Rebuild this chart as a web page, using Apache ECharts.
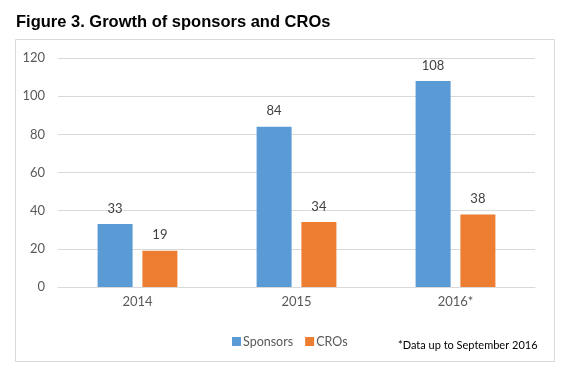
<!DOCTYPE html>
<html><head><meta charset="utf-8">
<script src="https://cdn.jsdelivr.net/npm/echarts@6/dist/echarts.min.js"></script>
<style>html,body{margin:0;padding:0;background:#fff}#c{width:570px;height:377px}</style>
</head><body><div id="c"></div>
<script>
var categories = ['2014', '2015', '2016*'];
var sponsors = [33, 84, 108];
var cros = [19, 34, 38];
var yTicks = [0, 20, 40, 60, 80, 100, 120];

var chart = echarts.init(document.getElementById('c'), null, {renderer: 'canvas'});
var lbl = {show: true, position: 'top', distance: 9, color: '#404040', fontSize: 13, fontFamily: 'Lato'};
chart.setOption({
  animation: false,
  backgroundColor: '#fff',
  title: {
    text: 'Figure 3. Growth of sponsors and CROs',
    left: 11, top: 9,
    textStyle: {fontFamily: 'Liberation Sans', fontWeight: 'bold', fontSize: 16.5, color: '#000'}
  },
  graphic: [
    {type: 'rect', shape: {x: 15.5, y: 39.5, width: 539, height: 322}, style: {fill: 'none', stroke: '#d9d9d9', lineWidth: 1}, silent: true},
    {type: 'text', left: 398, top: 340, style: {text: '*Data up to September 2016', font: '11px Lato', fill: '#000'}}
  ],
  legend: {
    data: ['Sponsors', 'CROs'],
    left: 227, top: 330,
    itemWidth: 9, itemHeight: 9, itemGap: 12,
    icon: 'rect',
    textStyle: {color: '#595959', fontSize: 12.5, fontFamily: 'Lato', padding: [0, 0, 0, -3]}
  },
  grid: {left: 58, right: 35, top: 58, bottom: 90, containLabel: false},
  xAxis: {
    type: 'category', data: categories,
    axisLine: {lineStyle: {color: '#d9d9d9'}},
    axisTick: {show: false},
    axisLabel: {color: '#595959', fontSize: 13, fontFamily: 'Lato', margin: 8}
  },
  yAxis: {
    type: 'value', min: yTicks[0], max: yTicks[yTicks.length - 1], interval: 20,
    axisLine: {show: false}, axisTick: {show: false},
    splitLine: {lineStyle: {color: '#d9d9d9'}},
    axisLabel: {color: '#595959', fontSize: 13, fontFamily: 'Lato', margin: 13}
  },
  series: [
    {name: 'Sponsors', type: 'bar', data: sponsors, barWidth: 35, barGap: '28%', itemStyle: {color: '#5b9bd5'}, label: lbl},
    {name: 'CROs', type: 'bar', data: cros, barWidth: 35, itemStyle: {color: '#ed7d31'}, label: lbl}
  ]
});
</script></body></html>
